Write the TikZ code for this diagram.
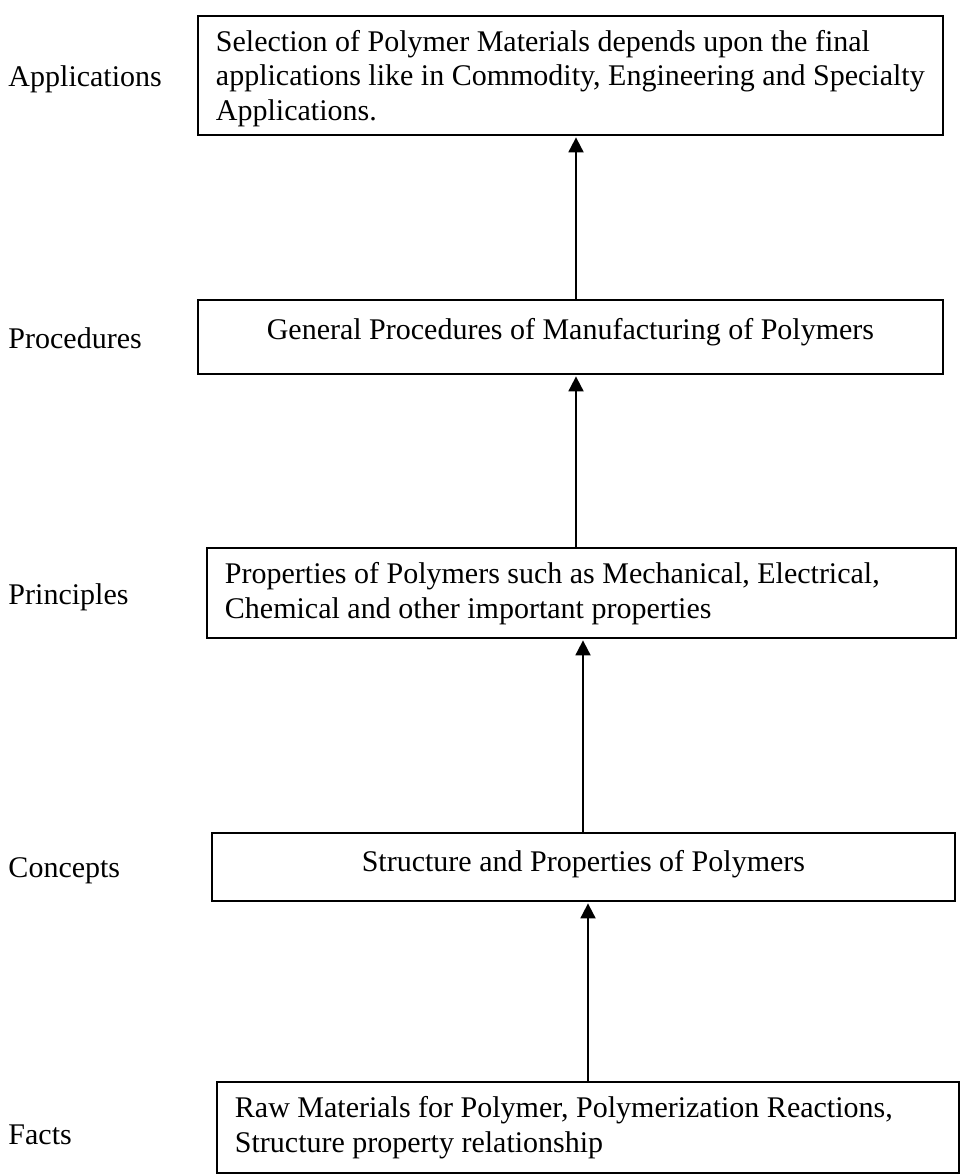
\documentclass[tikz,border=0pt]{standalone}
\usepackage{fontspec}
\setmainfont{Liberation Serif}
\usetikzlibrary{arrows.meta}
% struts giving each line box the full ascent/descent of the font
\newcommand{\topstrut}{\rule{0pt}{10.7pt}}
\newcommand{\botstrut}[1]{\rule[-#1]{0pt}{0pt}}
\begin{document}
\begin{tikzpicture}[x=0.4pt,y=-0.4pt,
  txt/.style={font=\fontsize{12}{13.8}\selectfont},
  box/.style={txt,draw,line width=0.75pt,rectangle,anchor=north west,
              inner xsep=7.2pt,inner ysep=0pt,align=flush left},
  lab/.style={txt,anchor=base west,inner sep=0pt},
  arr/.style={-{Triangle[length=6pt,width=6pt]},line width=0.75pt,shorten >=0.6pt}]
\useasboundingbox (0,0) rectangle (963,1174);

% level boxes, top to bottom
\node[box,text width=283.6pt,minimum height=47.6pt] (app) at (197,15)
  {\topstrut Selection of Polymer Materials depends upon the final\\
   applications like in Commodity, Engineering and Specialty\\
   Applications.\botstrut{2.6pt}};
\node[box,text width=283.6pt,minimum height=29.6pt,align=flush center] (proc) at (197,299)
  {\topstrut General Procedures of Manufacturing of Polymers\botstrut{8.3pt}};
\node[box,text width=285.2pt,minimum height=36pt] (prin) at (206,547)
  {\topstrut Properties of Polymers such as Mechanical, Electrical,\\
   Chemical and other important properties\botstrut{4.3pt}};
\node[box,text width=282.8pt,minimum height=27.2pt,align=flush center] (conc) at (211,832)
  {\topstrut Structure and Properties of Polymers\botstrut{6.7pt}};
\node[box,text width=282.4pt,minimum height=36.4pt] (fact) at (216,1081)
  {\topstrut Raw Materials for Polymer, Polymerization Reactions,\\
   Structure property relationship\botstrut{4.7pt}};

% level names on the left
\node[lab] (lapp)  at (8,86)   {Applications};
\node[lab] (lproc) at (8,348)  {Procedures};
\node[lab] (lprin) at (8,604)  {Principles};
\node[lab] (lconc) at (8,877)  {Concepts};
\node[lab] (lfact) at (8,1144) {Facts};

% x positions of the connecting arrows
\coordinate (x1) at (576,0);
\coordinate (x2) at (576,0);
\coordinate (x3) at (583,0);
\coordinate (x4) at (588,0);

% upward arrows between levels
\draw[arr] (proc.north -| x1) -- (app.south -| x1);
\draw[arr] (prin.north -| x2) -- (proc.south -| x2);
\draw[arr] (conc.north -| x3) -- (prin.south -| x3);
\draw[arr] (fact.north -| x4) -- (conc.south -| x4);
\end{tikzpicture}
\end{document}
